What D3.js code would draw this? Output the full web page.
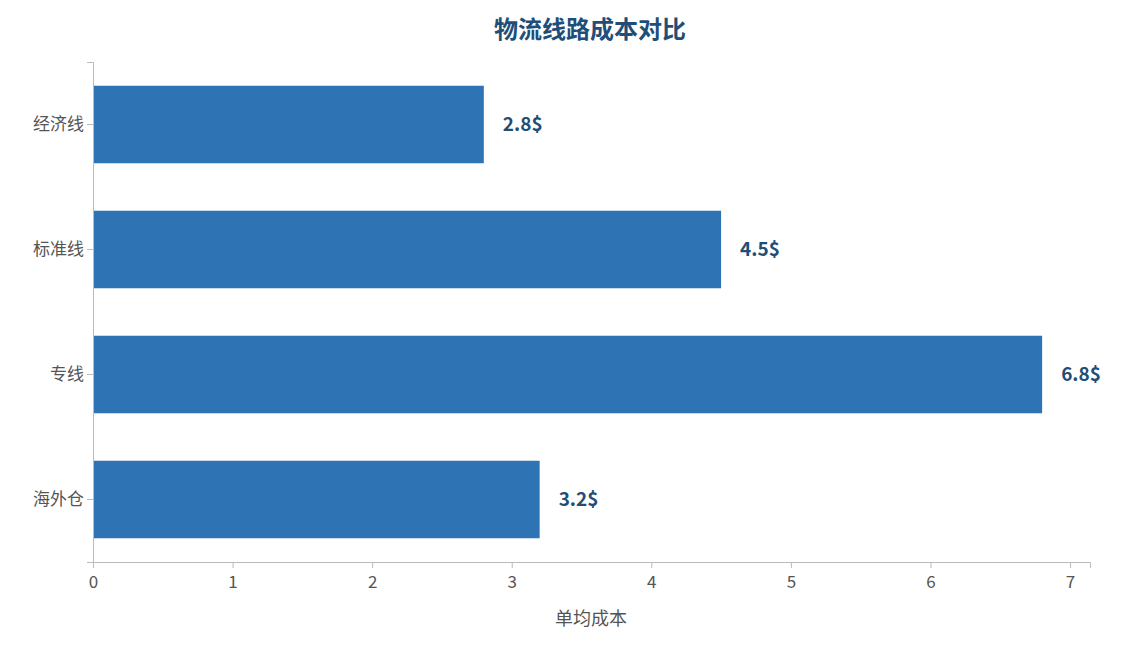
<!DOCTYPE html>
<html><head><meta charset="utf-8">
<script src="https://cdn.jsdelivr.net/npm/d3@7/dist/d3.min.js"></script>
<style>body{margin:0;background:#fff;font-family:"Noto Sans CJK SC","Noto Sans",sans-serif;}</style>
</head><body><svg id="c" width="1121" height="645"></svg>
<script>
const categories = ["经济线","标准线","专线","海外仓"];
const values = [2.8, 4.5, 6.8, 3.2];
const xTicks = [0,1,2,3,4,5,6,7];
const title = "物流线路成本对比";
const xTitle = "单均成本";

const svg = d3.select("#c");
const m = {l:93, r:1090, t:62, b:562};
const x = d3.scaleLinear().domain([0, 7.143]).range([m.l, m.r]);
const y = d3.scaleBand().domain(categories).range([m.t, m.b]).paddingInner(0.38).paddingOuter(0.19);

svg.append("text").attr("x",590).attr("y",38).attr("text-anchor","middle")
  .attr("font-size",24).attr("font-weight","bold").attr("fill","#1f4e79").text(title);

svg.append("g").selectAll("rect").data(values).join("rect")
  .attr("x", x(0)).attr("y", (d,i)=>y(categories[i]))
  .attr("width", d=>x(d)-x(0)).attr("height", y.bandwidth()).attr("fill","#2e74b5");

svg.append("g").selectAll("text").data(values).join("text")
  .attr("x", d=>x(d)+19).attr("y",(d,i)=>y(categories[i])+y.bandwidth()/2)
  .attr("dy","0.35em").attr("font-size",19).attr("font-weight","bold").attr("fill","#1f4e79")
  .text(d=>d.toFixed(1)+"$");

const xa = svg.append("g").attr("transform",`translate(0,${m.b})`)
  .call(d3.axisBottom(x).tickValues(xTicks).tickSizeOuter(0).tickSize(6));
const ya = svg.append("g").attr("transform",`translate(${m.l},0)`)
  .call(d3.axisLeft(y).tickSizeOuter(0).tickSize(6));
[xa,ya].forEach(a=>{
  a.selectAll("path,line").attr("stroke","#bbb");
  a.selectAll("text").attr("fill","#555").attr("font-size",17)
   .attr("font-family",'"Noto Sans CJK SC","Noto Sans",sans-serif');
});
xa.selectAll("text").attr("dy","1em");

svg.append("text").attr("x",591).attr("y",625).attr("text-anchor","middle")
  .attr("font-size",18).attr("fill","#555").text(xTitle);
</script></body></html>
